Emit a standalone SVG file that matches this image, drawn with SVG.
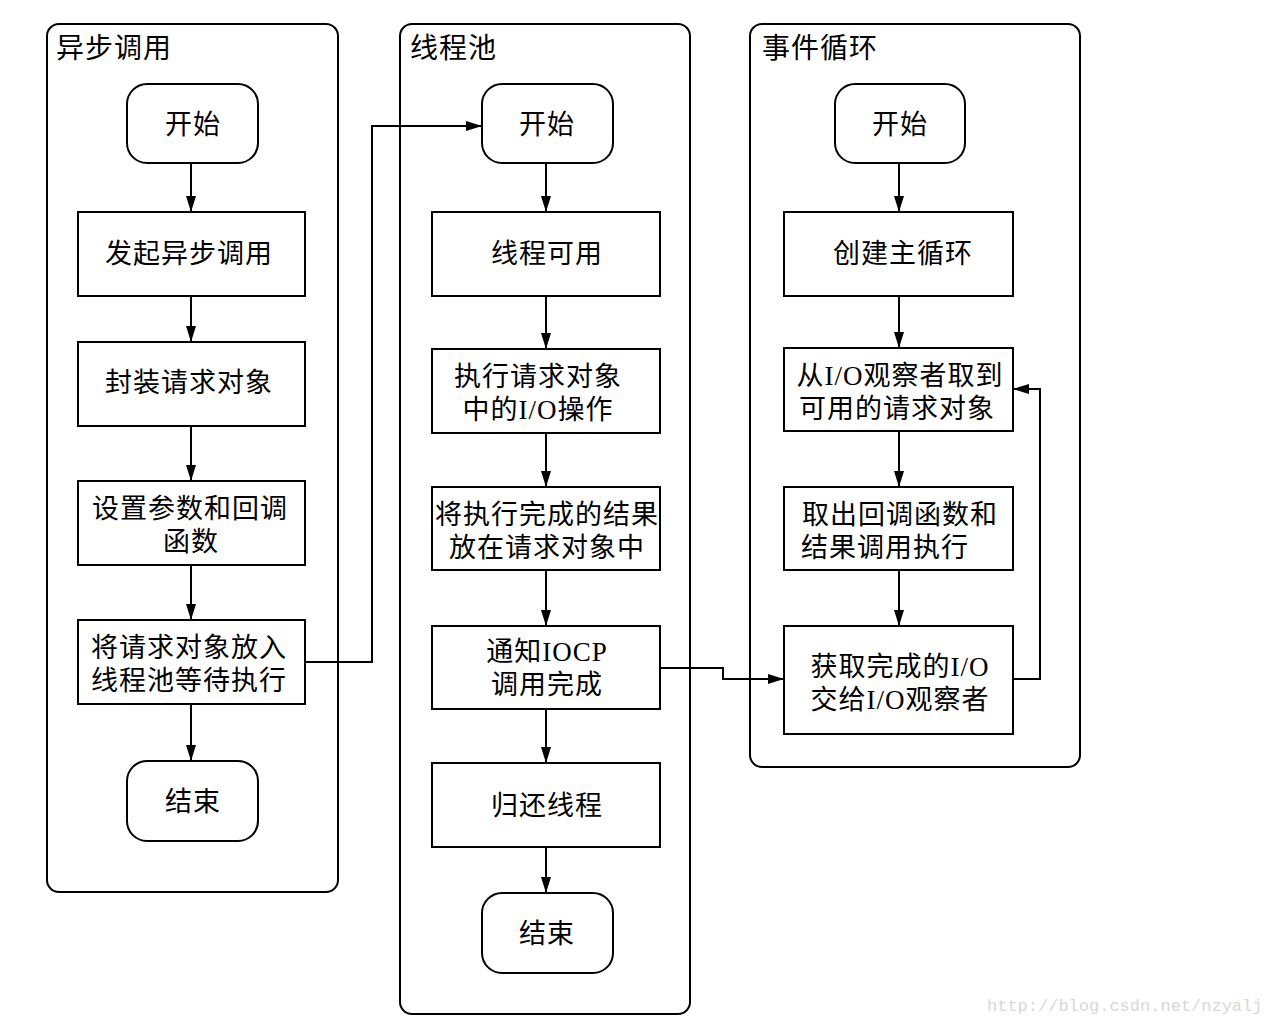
<svg xmlns="http://www.w3.org/2000/svg" width="1268" height="1024" viewBox="0 0 1268 1024">
<defs>
<marker id="ah" viewBox="0 0 16 10" refX="16" refY="5" markerWidth="16" markerHeight="10" markerUnits="userSpaceOnUse" orient="auto">
<path d="M0,0 L16,5 L0,10 Z" fill="#000"/>
</marker>
<style>
.lane{fill:#fff;stroke:#000;stroke-width:2}
.box{fill:#fff;stroke:#000;stroke-width:2}
.t{font-family:"Liberation Serif","Noto Sans CJK SC",serif;font-size:27px;letter-spacing:1px;fill:#000;text-anchor:middle}
.title{font-family:"Liberation Serif","Noto Sans CJK SC",serif;font-size:28px;letter-spacing:1px;fill:#000}
.c{fill:none;stroke:#000;stroke-width:2;marker-end:url(#ah)}
.wm{font-family:"Liberation Mono",monospace;font-size:17px;fill:#d8d8d8}
</style>
</defs>
<rect width="1268" height="1024" fill="#fff"/>
<g id="lane-async">
<rect class="lane" x="47" y="24" width="291" height="868" rx="12"/>
<text class="title" x="56" y="58">异步调用</text>
</g>
<g id="lane-pool">
<rect class="lane" x="400" y="24" width="290" height="990" rx="12"/>
<text class="title" x="410" y="58">线程池</text>
</g>
<g id="lane-loop">
<rect class="lane" x="750" y="24" width="330" height="743" rx="12"/>
<text class="title" x="762" y="58">事件循环</text>
</g>
<g id="connectors">
<line class="c" x1="191" y1="163" x2="191" y2="212"/>
<line class="c" x1="191" y1="296" x2="191" y2="342"/>
<line class="c" x1="191" y1="426" x2="191" y2="481"/>
<line class="c" x1="191" y1="565" x2="191" y2="620"/>
<line class="c" x1="191" y1="704" x2="191" y2="761"/>
<line class="c" x1="546" y1="163" x2="546" y2="212"/>
<line class="c" x1="546" y1="296" x2="546" y2="349"/>
<line class="c" x1="546" y1="433" x2="546" y2="487"/>
<line class="c" x1="546" y1="570" x2="546" y2="626"/>
<line class="c" x1="546" y1="709" x2="546" y2="763"/>
<line class="c" x1="546" y1="847" x2="546" y2="893"/>
<line class="c" x1="899" y1="163" x2="899" y2="212"/>
<line class="c" x1="899" y1="296" x2="899" y2="348"/>
<line class="c" x1="899" y1="431" x2="899" y2="487"/>
<line class="c" x1="899" y1="570" x2="899" y2="626"/>
<polyline class="c" points="305,662 372,662 372,126 482,126"/>
<polyline class="c" points="660,668 723,668 723,679 784,679"/>
<polyline class="c" points="1013,679 1040,679 1040,389 1013,389"/>
</g>
<g id="a-start"><rect class="box" x="127" y="84" width="131" height="79" rx="20"/><text class="t" x="193" y="134">开始</text></g>
<g id="a-call"><rect class="box" x="78" y="212" width="227" height="84"/><text class="t" x="189" y="263">发起异步调用</text></g>
<g id="a-wrap"><rect class="box" x="78" y="342" width="227" height="84"/><text class="t" x="189" y="392">封装请求对象</text></g>
<g id="a-param"><rect class="box" x="78" y="481" width="227" height="84"/><text class="t" x="190" y="518">设置参数和回调</text><text class="t" x="191" y="551">函数</text></g>
<g id="a-put"><rect class="box" x="78" y="620" width="227" height="84"/><text class="t" x="189" y="657">将请求对象放入</text><text class="t" x="189" y="690">线程池等待执行</text></g>
<g id="a-end"><rect class="box" x="127" y="761" width="131" height="80" rx="20"/><text class="t" x="193" y="811">结束</text></g>
<g id="p-start"><rect class="box" x="482" y="84" width="131" height="79" rx="20"/><text class="t" x="547" y="134">开始</text></g>
<g id="p-avail"><rect class="box" x="432" y="212" width="228" height="84"/><text class="t" x="547" y="263">线程可用</text></g>
<g id="p-exec"><rect class="box" x="432" y="349" width="228" height="84"/><text class="t" x="538" y="386">执行请求对象</text><text class="t" x="538" y="419">中的I/O操作</text></g>
<g id="p-result"><rect class="box" x="432" y="487" width="228" height="83"/><text class="t" x="547" y="524">将执行完成的结果</text><text class="t" x="547" y="557">放在请求对象中</text></g>
<g id="p-iocp"><rect class="box" x="432" y="626" width="228" height="83"/><text class="t" x="547" y="661">通知IOCP</text><text class="t" x="547" y="694">调用完成</text></g>
<g id="p-return"><rect class="box" x="432" y="763" width="228" height="84"/><text class="t" x="547" y="815">归还线程</text></g>
<g id="p-end"><rect class="box" x="482" y="893" width="131" height="80" rx="20"/><text class="t" x="547" y="943">结束</text></g>
<g id="l-start"><rect class="box" x="835" y="84" width="130" height="79" rx="20"/><text class="t" x="900" y="134">开始</text></g>
<g id="l-create"><rect class="box" x="784" y="212" width="229" height="84"/><text class="t" x="903" y="263">创建主循环</text></g>
<g id="l-fetch"><rect class="box" x="784" y="348" width="229" height="83"/><text class="t" x="900" y="385">从I/O观察者取到</text><text class="t" x="897" y="418">可用的请求对象</text></g>
<g id="l-cb"><rect class="box" x="784" y="487" width="229" height="83"/><text class="t" x="900" y="524">取出回调函数和</text><text class="t" x="885" y="557">结果调用执行</text></g>
<g id="l-done"><rect class="box" x="784" y="626" width="229" height="108"/><text class="t" x="900" y="676">获取完成的I/O</text><text class="t" x="900" y="709">交给I/O观察者</text></g>
<text class="wm" x="987" y="1011">http://blog.csdn.net/nzyalj</text>
</svg>
